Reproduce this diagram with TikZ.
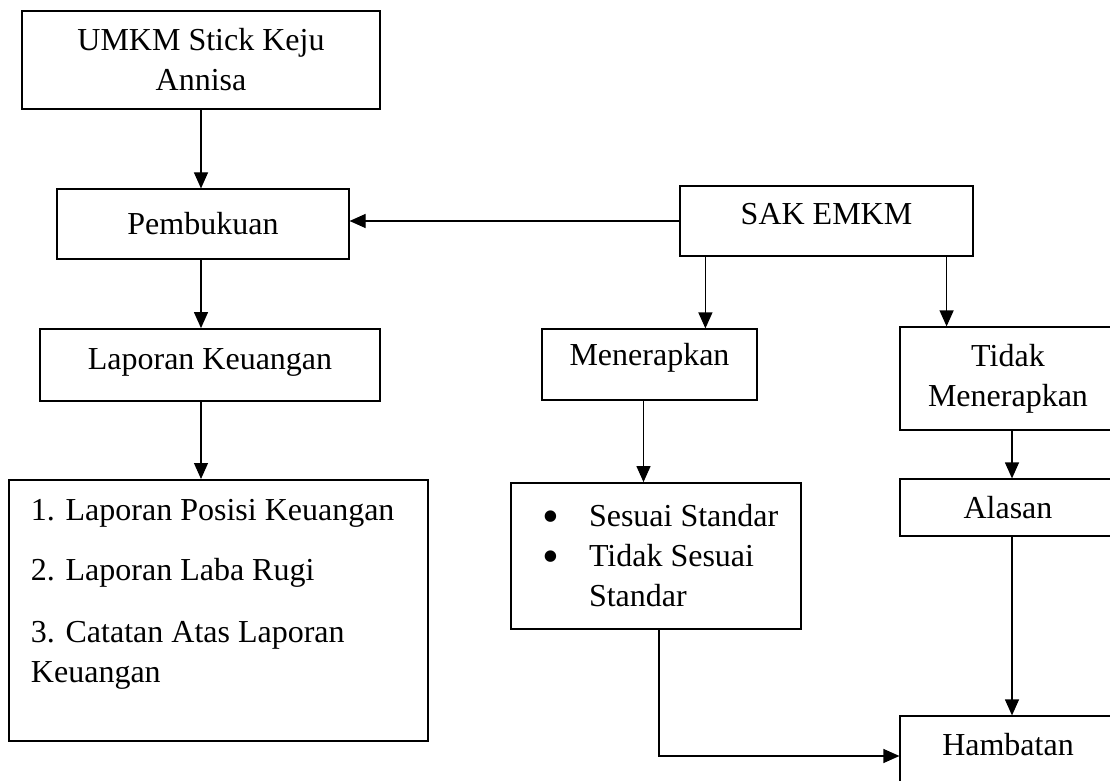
\documentclass[tikz,border=0pt]{standalone}
\usepackage{fontspec}
\setmainfont{Liberation Serif}
\setlength{\parindent}{0pt}
\usetikzlibrary{arrows.meta}
\newcommand{\bigdot}{\smash{\raisebox{-2.8pt}{\scalebox{1.5}{\textbullet}}}}
\tikzset{
  box/.style={draw, line width=0.6pt, align=center, inner sep=0pt},
  thickbox/.style={box, line width=0.9pt},
  flow/.style={-{Triangle[width=7pt,length=8pt]}, line width=0.6pt},
}
\begin{document}
\begin{tikzpicture}[x=0.5pt, y=-0.5pt, font=\fontsize{16}{20}\selectfont]
  \useasboundingbox (0,0) rectangle (1110,781);
  % left column
  \node[thickbox, minimum width=179pt, minimum height=49pt] (umkm) at (201,60) {UMKM Stick Keju\\Annisa};
  \node[box, minimum width=146pt, minimum height=35pt] (pembukuan) at (203,224) {Pembukuan};
  \node[thickbox, minimum width=170pt, minimum height=36pt, text depth=6pt] (laporan) at (210,365) {Laporan Keuangan};
  \node[thickbox, anchor=north, text width=187.5pt, inner xsep=11pt, inner ysep=9.5pt, align=flush left] (list) at (218.5,479)
    {1. Laporan Posisi Keuangan\\[10pt]2. Laporan Laba Rugi\\[11pt]3. Catatan Atas Laporan\\Keuangan\\\mbox{}};
  % right part
  \node[box, minimum width=146.5pt, minimum height=35pt, text depth=7pt] (sak) at (826.5,221) {SAK EMKM};
  \node[box, minimum width=107.5pt, minimum height=35.5pt, text depth=10pt] (menerapkan) at (649.5,364.5) {Menerapkan};
  \node[thickbox, minimum width=145pt, minimum height=73pt, text width=145pt, align=flush left] (bullet) at (656,556)
    {\hspace*{15.5pt}\makebox[23.5pt][l]{\bigdot}Sesuai Standar\\\hspace*{15.5pt}\makebox[23.5pt][l]{\bigdot}Tidak Sesuai\\\hspace*{39pt}Standar};
  \node[box, minimum width=108pt, minimum height=51.5pt] (tidak) at (1008,378.5) {Tidak\\Menerapkan};
  \node[box, minimum width=108pt, minimum height=28.5pt] (alasan) at (1008,507.5) {Alasan};
  \node[box, minimum width=108pt, minimum height=40pt, text depth=12pt] (hambatan) at (1008,756) {Hambatan};
  % connectors
  \draw[flow] (umkm.south) -- (umkm.south |- pembukuan.north);
  \draw[flow] (sak.west) -- (sak.west -| pembukuan.east);
  \draw[flow] (umkm.south |- pembukuan.south) -- (umkm.south |- laporan.north);
  \draw[flow] (umkm.south |- laporan.south) -- (umkm.south |- list.north);
  \draw[flow] ([xshift=13pt]sak.south west) -- ([xshift=13pt]sak.south west |- menerapkan.north);
  \draw[flow] ([xshift=-13.5pt]sak.south east) -- ([xshift=-13.5pt]sak.south east |- tidak.north);
  \draw[flow] ([xshift=-3pt]menerapkan.south) -- ([xshift=-3pt]menerapkan.south |- bullet.north);
  \draw[flow] ([xshift=2pt]tidak.south) -- ([xshift=2pt]tidak.south |- alasan.north);
  \draw[flow] ([xshift=2pt]alasan.south) -- ([xshift=2pt]alasan.south |- hambatan.north);
  \draw[flow] ([xshift=1.5pt]bullet.south) |- (hambatan.west);
\end{tikzpicture}
\end{document}
